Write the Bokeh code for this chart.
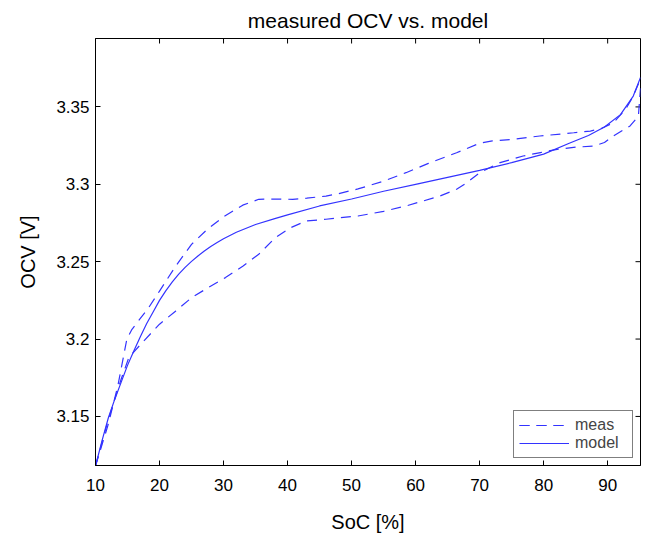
import math
from bokeh.plotting import figure
from bokeh.models import Range1d, FixedTicker, CustomJSTickFormatter, Legend, LegendItem
from bokeh.embed import file_html
from bokeh.resources import INLINE

# ---------------- data ----------------
soc_model = [10, 11, 12, 13, 14, 15, 16, 17, 18, 19, 20, 21, 22, 23, 24, 25, 26,
             27, 28, 29, 30, 32, 35, 38, 40, 45, 50, 55, 60, 65, 70, 75, 80, 84,
             87, 89.5, 92, 94, 95.13]
ocv_model = [3.118, 3.134, 3.149, 3.161, 3.172, 3.183, 3.1925, 3.2015, 3.2100,
             3.2175, 3.2250, 3.2313, 3.2370, 3.2420, 3.2463, 3.2502, 3.2537,
             3.2569, 3.2598, 3.2624, 3.2648, 3.2690, 3.2740, 3.2778, 3.2802,
             3.2860, 3.2905, 3.2955, 3.300, 3.3045, 3.309, 3.314, 3.3195,
             3.3265, 3.3315, 3.337, 3.345, 3.357, 3.369]

soc_meas_up = [10, 12, 13.5, 14.9, 15.7, 18.3, 20, 22.5, 25, 27.5, 30, 33, 35.5,
               38, 40.8, 43, 46, 48, 51, 55, 58.5, 62, 66.4, 70, 72, 75, 79.4,
               84.7, 87.3, 89, 90.9, 92.8, 94, 95.13]
ocv_meas_up = [3.118, 3.145, 3.17, 3.200, 3.2063, 3.2203, 3.231, 3.247, 3.2612,
               3.271, 3.279, 3.2865, 3.2903, 3.2905, 3.2903, 3.2910, 3.2924,
               3.294, 3.297, 3.302, 3.3075, 3.3135, 3.3204, 3.3265, 3.328,
               3.329, 3.3312, 3.3333, 3.3344, 3.336, 3.3398, 3.3484, 3.357, 3.368]

soc_meas_dn = [10, 12, 14, 15.2, 17.3, 20, 22.5, 25, 27.5, 30.3, 33, 35.5, 38.1,
               40.5, 42.9, 46, 48, 51, 55, 58.5, 61, 63.8, 66.4, 68, 70, 73.2,
               76.8, 79.5, 82.1, 85, 87.8, 89.5, 90.9, 93.5, 94.8, 95.13]
ocv_meas_dn = [3.118, 3.148, 3.174, 3.188, 3.1977, 3.2096, 3.218, 3.2267, 3.233,
               3.2397, 3.247, 3.2548, 3.2655, 3.272, 3.2763, 3.2774, 3.2784,
               3.2795, 3.2825, 3.286, 3.289, 3.2924, 3.2968, 3.301, 3.3075,
               3.314, 3.3183, 3.3205, 3.3226, 3.324, 3.3247, 3.327, 3.3312,
               3.3377, 3.344, 3.362]

x_ticks = [10, 20, 30, 40, 50, 60, 70, 80, 90]
y_ticks = [3.15, 3.2, 3.25, 3.3, 3.35]
x_lim = (10, 95.13)
y_lim = (3.1183, 3.3942)

FONT = "Liberation Sans"
BLUE = "#3333ff"

p = figure(width=648, height=537, output_backend="svg", toolbar_location=None,
           x_range=Range1d(*x_lim), y_range=Range1d(*y_lim),
           min_border_left=95, min_border_right=8, min_border_top=37,
           min_border_bottom=72, background_fill_color="white",
           border_fill_color="white")

p.title.text = "measured OCV vs. model"
p.title.align = "center"
p.title.text_font = FONT
p.title.text_font_size = "21px"
p.title.text_font_style = "normal"
p.title.text_color = "black"
p.title.standoff = 13

p.xgrid.visible = False
p.ygrid.visible = False
p.outline_line_color = "black"
p.outline_line_width = 1

yfmt = CustomJSTickFormatter(code="return parseFloat(tick.toFixed(2)).toString();")

def style_axis(ax):
    ax.major_tick_in = 5
    ax.major_tick_out = 0
    ax.minor_tick_in = 0
    ax.minor_tick_out = 0
    ax.axis_line_color = "black"
    ax.major_tick_line_color = "black"
    ax.major_label_text_font = FONT
    ax.major_label_text_color = "black"
    ax.axis_label_text_font = FONT
    ax.axis_label_text_font_style = "normal"
    ax.axis_label_text_color = "black"

xa = p.xaxis[0]
xa.ticker = FixedTicker(ticks=x_ticks)
style_axis(xa)
xa.major_label_text_font_size = "17px"
xa.major_label_standoff = 13
xa.axis_label = "SoC [%]"
xa.axis_label_text_font_size = "20px"
xa.axis_label_standoff = 17

ya = p.yaxis[0]
ya.ticker = FixedTicker(ticks=y_ticks)
ya.formatter = yfmt
style_axis(ya)
ya.major_label_text_font_size = "17px"
ya.major_label_standoff = 6
ya.axis_label = "OCV [V]"
ya.axis_label_text_font_size = "20px"
ya.axis_label_standoff = 14

# inward tick marks on the top and right edges of the box (half of each dash is clipped)
p.scatter(x=x_ticks, y=[y_lim[1]] * len(x_ticks), marker="dash", angle=math.pi / 2,
          size=10, line_color="black", line_width=1)
p.scatter(x=[x_lim[1]] * len(y_ticks), y=y_ticks, marker="dash",
          size=10, line_color="black", line_width=1)

r_meas_up = p.line(soc_meas_up, ocv_meas_up, line_color=BLUE, line_width=1.2, line_dash="10 7")
r_meas_dn = p.line(soc_meas_dn, ocv_meas_dn, line_color=BLUE, line_width=1.2, line_dash="10 7")
r_model = p.line(soc_model, ocv_model, line_color=BLUE, line_width=1.2)

legend = Legend(items=[LegendItem(label="meas", renderers=[r_meas_up, r_meas_dn]),
                       LegendItem(label="model", renderers=[r_model])],
                location="bottom_right")
legend.label_text_font = FONT
legend.label_text_font_size = "16px"
legend.label_height = 14
legend.glyph_height = 14
legend.glyph_width = 50
legend.label_width = 52
legend.label_standoff = 6
legend.spacing = 0
legend.padding = 5
legend.margin = 7
legend.border_line_color = "black"
legend.border_line_width = 1
legend.background_fill_alpha = 1
p.add_layout(legend, "center")

open("out.html", "w").write(file_html(p, INLINE))
